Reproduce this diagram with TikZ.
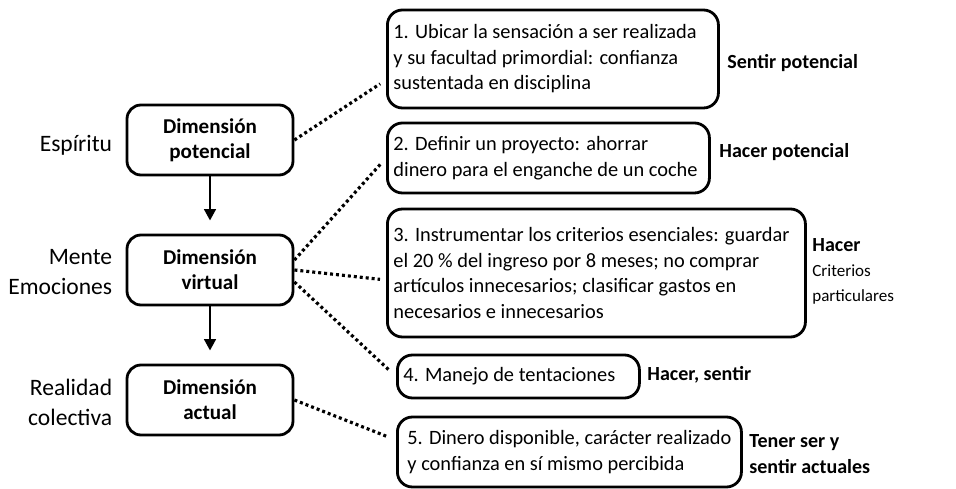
\documentclass[tikz,border=0pt]{standalone}
\usepackage{fontspec}
\setmainfont{Carlito}
\usepackage{tikz}
\usetikzlibrary{arrows.meta}

\tikzset{
  dimbox/.style={draw, line width=1.6pt, rounded corners=0.28cm, minimum width=3.32cm, minimum height=1.4cm, align=center, font=\fontsize{12}{14.2}\selectfont\bfseries},
  pasobox/.style={draw, line width=1.6pt, rounded corners=0.3cm, anchor=west, align=flush left, inner xsep=0.12cm, font=\fontsize{11.6}{14.5}\selectfont},
  planolabel/.style={anchor=east, align=flush right, inner xsep=0pt, font=\fontsize{13.4}{17}\selectfont},
  accionlabel/.style={anchor=west, align=flush left, inner xsep=0pt, font=\fontsize{11.4}{14.5}\selectfont\bfseries},
  enlace/.style={line width=1.8pt, dash pattern=on 1.7pt off 1.7pt},
  flujo/.style={line width=1.6pt, -{Triangle[width=6.5pt,length=6.5pt]}, shorten >=7.4pt}
}

\begin{document}
\begin{tikzpicture}
\useasboundingbox (0,0) rectangle (19.12,9.76);

% Dimensiones (columna izquierda)
\node[dimbox] (dp) at (4.2, 6.96) {Dimensión\\potencial};
\node[dimbox] (dv) at (4.2, 4.36) {Dimensión\\virtual};
\node[dimbox] (da) at (4.2, 1.76) {Dimensión\\actual};

\draw[flujo] (dp.south) -- (dv.north);
\draw[flujo] (dv.south) -- (da.north);

% Planos
\node[planolabel] (esp) at (2.25, 6.86) {Espíritu};
\node[planolabel] (men) at (2.25, 4.32) {Mente\\Emociones};
\node[planolabel] (rea) at (2.25, 1.72) {Realidad\\colectiva};

% Pasos (columna derecha)
\node[pasobox, text width=6.38cm, minimum height=1.96cm] (r1) at (7.72, 8.58) {1. Ubicar la sensación a ser realizada\\y su facultad primordial: confianza\\sustentada en disciplina};
\node[pasobox, text width=6.20cm, minimum height=1.4cm] (r2) at (7.72, 6.6) {2. Definir un proyecto: ahorrar\\dinero para el enganche de un coche};
\node[pasobox, text width=8.12cm, minimum height=2.56cm] (r3) at (7.72, 4.3) {3. Instrumentar los criterios esenciales: guardar\\el 20 \% del ingreso por 8 meses; no comprar\\artículos innecesarios; clasificar gastos en\\necesarios e innecesarios};
\node[pasobox, text width=4.60cm, minimum height=0.86cm] (r4) at (7.92, 2.23) {4. Manejo de tentaciones};
\node[pasobox, inner xsep=0.2cm, text width=6.48cm, minimum height=1.4cm] (r5) at (7.92, 0.72) {5. Dinero disponible, carácter realizado\\y confianza en sí mismo percibida};

% Acciones
\node[accionlabel] (a1) at (14.54, 8.5) {Sentir potencial};
\node[accionlabel] (a2) at (14.38, 6.72) {Hacer potencial};
\node[accionlabel, font=\fontsize{9.7}{14.2}\selectfont] (a3) at (16.24, 4.34) {{\fontsize{11.4}{14.5}\selectfont\bfseries Hacer}\\Criterios\\particulares};
\node[accionlabel] (a4) at (12.94, 2.26) {Hacer, sentir};
\node[accionlabel] (a5) at (14.98, 0.68) {Tener ser y\\sentir actuales};

% Enlaces punteados
\draw[enlace, shorten >=0.14cm] (dp.east) -- ([yshift=-0.42cm]r1.west);
\draw[enlace, shorten >=0.12cm] ([yshift=0.2cm]dv.east) -- (r2.west);
\draw[enlace, shorten >=0.12cm] (dv.east) -- ([yshift=-0.14cm]r3.west);
\draw[enlace, shorten >=0.2cm] ([yshift=-0.24cm]dv.east) -- (r4.west);
\draw[enlace, shorten >=0.16cm] (da.east) -- ([yshift=0.24cm]r5.west);

\end{tikzpicture}
\end{document}
